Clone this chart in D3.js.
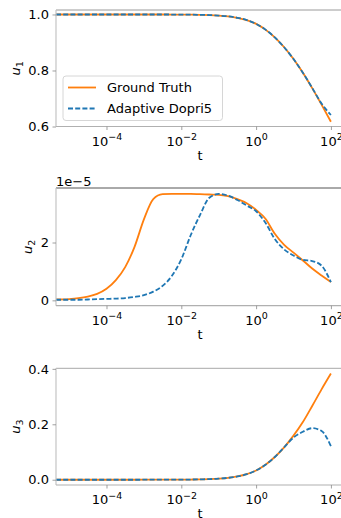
<!DOCTYPE html>
<html><head><meta charset="utf-8">
<script src="https://cdn.jsdelivr.net/npm/d3@7"></script>
<style>body{margin:0;background:#fff} svg{display:block} text{font-family:"DejaVu Sans",sans-serif;fill:#000}</style>
</head><body>
<svg id="chart" width="341" height="518"></svg>
<script>
// ---- data ----
const tValues = [4.47e-6, 1e-5, 1.78e-5, 3.16e-5, 5.62e-5, 1e-4, 1.78e-4, 3.16e-4, 5.62e-4, 1e-3, 1.78e-3, 3.16e-3, 5.62e-3,
  1e-2, 1.78e-2, 3.16e-2, 5.62e-2, 0.1, 0.178, 0.316, 0.562, 1, 1.78, 3.16, 5.62, 10, 17.8, 31.6, 56.2, 100];

const u1Truth = [1, 1, 1, 1, 1, 1, 1, 1, 0.99999, 0.99996, 0.9999, 0.9999, 0.9998,
  0.9996, 0.9993, 0.9987, 0.9978, 0.9961, 0.9932, 0.9882, 0.980, 0.9665, 0.946, 0.918, 0.883, 0.841, 0.792, 0.737, 0.678, 0.617];
const u1Dopri = [1, 1, 1, 1, 1, 1, 1, 1, 0.99999, 0.99996, 0.9999, 0.9999, 0.9998,
  0.9996, 0.9993, 0.9987, 0.9978, 0.9961, 0.9932, 0.9882, 0.980, 0.9665, 0.946, 0.918, 0.883, 0.841, 0.792, 0.738, 0.682, 0.641];

// u2 values in units of 1e-5
const u2Truth = [0.03, 0.045, 0.075, 0.13, 0.225, 0.40, 0.70, 1.15, 1.85, 2.8, 3.5, 3.67, 3.68,
  3.68, 3.68, 3.67, 3.66, 3.65, 3.6, 3.5, 3.36, 3.13, 2.82, 2.3, 1.92, 1.65, 1.38, 1.1, 0.86, 0.63];
const u2Dopri = [0.02, 0.02, 0.02, 0.03, 0.04, 0.05, 0.06, 0.08, 0.12, 0.18, 0.3, 0.5, 0.85,
  1.42, 2.25, 2.95, 3.55, 3.68, 3.62, 3.47, 3.28, 3.08, 2.68, 2.12, 1.76, 1.55, 1.4, 1.36, 1.2, 0.63];

const u3Truth = [0, 0, 0, 0, 0, 0, 0, 0, 0, 0.00004, 0.00007, 0.0001, 0.0002,
  0.0004, 0.0007, 0.0013, 0.0022, 0.0039, 0.0068, 0.0118, 0.020, 0.0335, 0.054, 0.082, 0.117, 0.159, 0.208, 0.266, 0.326, 0.383];
const u3Dopri = [0, 0, 0, 0, 0, 0, 0, 0, 0, 0.00004, 0.00007, 0.0001, 0.0002,
  0.0004, 0.0007, 0.0013, 0.0022, 0.0039, 0.0068, 0.0118, 0.020, 0.0335, 0.054, 0.082, 0.117, 0.152, 0.173, 0.186, 0.176, 0.121];

const xTickValues = [1e-4, 1e-2, 1, 100];
const xTickExponents = ["−4", "−2", "0", "2"];
const seriesNames = ["Ground Truth", "Adaptive Dopri5"];
const seriesColors = ["#ff7f0e", "#1f77b4"];

// ---- layout ----
const svg = d3.select("#chart");
const left = 56, right = 344;
const x = d3.scaleLog().domain([Math.pow(10, -5.35), Math.pow(10, 2.35)]).range([left, right]);

const panels = [
  {top: 10, bottom: 126.5, domain: [0.6, 1.016], ticks: [0.6, 0.8, 1.0], fmt: d3.format(".1f"), sub: "1",
   data: [u1Truth, u1Dopri], labelX: 20, topColor: "#9a9a9a"},
  {top: 188, bottom: 305.7, domain: [-0.185, 3.885], ticks: [0, 2], fmt: d3.format("d"), sub: "2",
   data: [u2Truth, u2Dopri], labelX: 32, topColor: "#555", offset: "1e−5"},
  {top: 368.3, bottom: 485, domain: [-0.019, 0.402], ticks: [0.0, 0.2, 0.4], fmt: d3.format(".1f"), sub: "3",
   data: [u3Truth, u3Dopri], labelX: 20, topColor: "#a8a8a8"}
];

panels.forEach((p, pi) => {
  const y = d3.scaleLinear().domain(p.domain).range([p.bottom, p.top]);
  const g = svg.append("g");

  // lines
  p.data.forEach((vals, si) => {
    const pts = tValues.map((t, i) => [t, vals[i]]);
    g.append("path")
      .datum(pts)
      .attr("fill", "none")
      .attr("stroke", seriesColors[si])
      .attr("stroke-width", 1.8)
      .attr("stroke-dasharray", si === 1 ? "5,2.2" : null)
      .attr("d", d3.line().x(d => x(d[0])).y(d => y(d[1])).curve(d3.curveMonotoneX));
  });

  // spines
  g.append("line").attr("x1", left).attr("x2", 341).attr("y1", p.top).attr("y2", p.top)
    .attr("stroke", p.topColor).attr("stroke-width", 1);
  g.append("line").attr("x1", left).attr("x2", left).attr("y1", p.top).attr("y2", p.bottom)
    .attr("stroke", "#c4c4c4").attr("stroke-width", 1.2);
  g.append("line").attr("x1", left).attr("x2", 341).attr("y1", p.bottom).attr("y2", p.bottom)
    .attr("stroke", "#b0b0b0").attr("stroke-width", 1.2);

  // x axis
  const xa = g.append("g").attr("transform", `translate(0,${p.bottom})`)
    .call(d3.axisBottom(x).tickValues(xTickValues).tickSize(3.5).tickPadding(3.5).tickFormat(""));
  xa.select(".domain").remove();
  xa.selectAll(".tick line").attr("stroke", "#888").attr("stroke-width", 0.8);
  xa.selectAll(".tick").each(function(d, i) {
    const t = d3.select(this).append("text").attr("y", 19).attr("text-anchor", "middle")
      .style("font-size", "13px");
    t.append("tspan").text("10");
    t.append("tspan").attr("dy", -5.5).style("font-size", "9.5px").text(xTickExponents[i]);
  });
  g.append("text").attr("x", 200).attr("y", p.bottom + 33).attr("text-anchor", "middle")
    .style("font-size", "13px").text("t");

  // y axis
  const ya = g.append("g").attr("transform", `translate(${left},0)`)
    .call(d3.axisLeft(y).tickValues(p.ticks).tickSize(3.5).tickPadding(3.5).tickFormat(p.fmt));
  ya.select(".domain").remove();
  ya.selectAll(".tick line").attr("stroke", "#888").attr("stroke-width", 0.8);
  ya.selectAll(".tick text").style("font-size", "13px").style("font-family", "DejaVu Sans").attr("fill", "#000");

  const cy = (p.top + p.bottom) / 2;
  const lab = g.append("text").attr("transform", `translate(${p.labelX},${cy}) rotate(-90)`)
    .attr("text-anchor", "middle").style("font-size", "13px");
  lab.append("tspan").style("font-style", "italic").text("u");
  lab.append("tspan").attr("dy", 3).style("font-size", "9.5px").text(p.sub);

  if (p.offset) {
    g.append("text").attr("x", left).attr("y", p.top - 2.5).style("font-size", "13px").text(p.offset);
  }

  // legend in first panel
  if (pi === 0) {
    const lg = g.append("g");
    lg.append("rect").attr("x", 63).attr("y", 76).attr("width", 159.5).attr("height", 44.5)
      .attr("rx", 3).attr("fill", "#fff").attr("fill-opacity", 0.8).attr("stroke", "#d6d6d6").attr("stroke-width", 1);
    seriesNames.forEach((name, si) => {
      const ry = 87.5 + si * 21;
      lg.append("line").attr("x1", 68).attr("x2", 96).attr("y1", ry).attr("y2", ry)
        .attr("stroke", seriesColors[si]).attr("stroke-width", 1.8)
        .attr("stroke-dasharray", si === 1 ? "5,2.2" : null);
      lg.append("text").attr("x", 107).attr("y", ry + 4.6).style("font-size", "13px").text(name);
    });
  }
});
</script>
</body></html>
